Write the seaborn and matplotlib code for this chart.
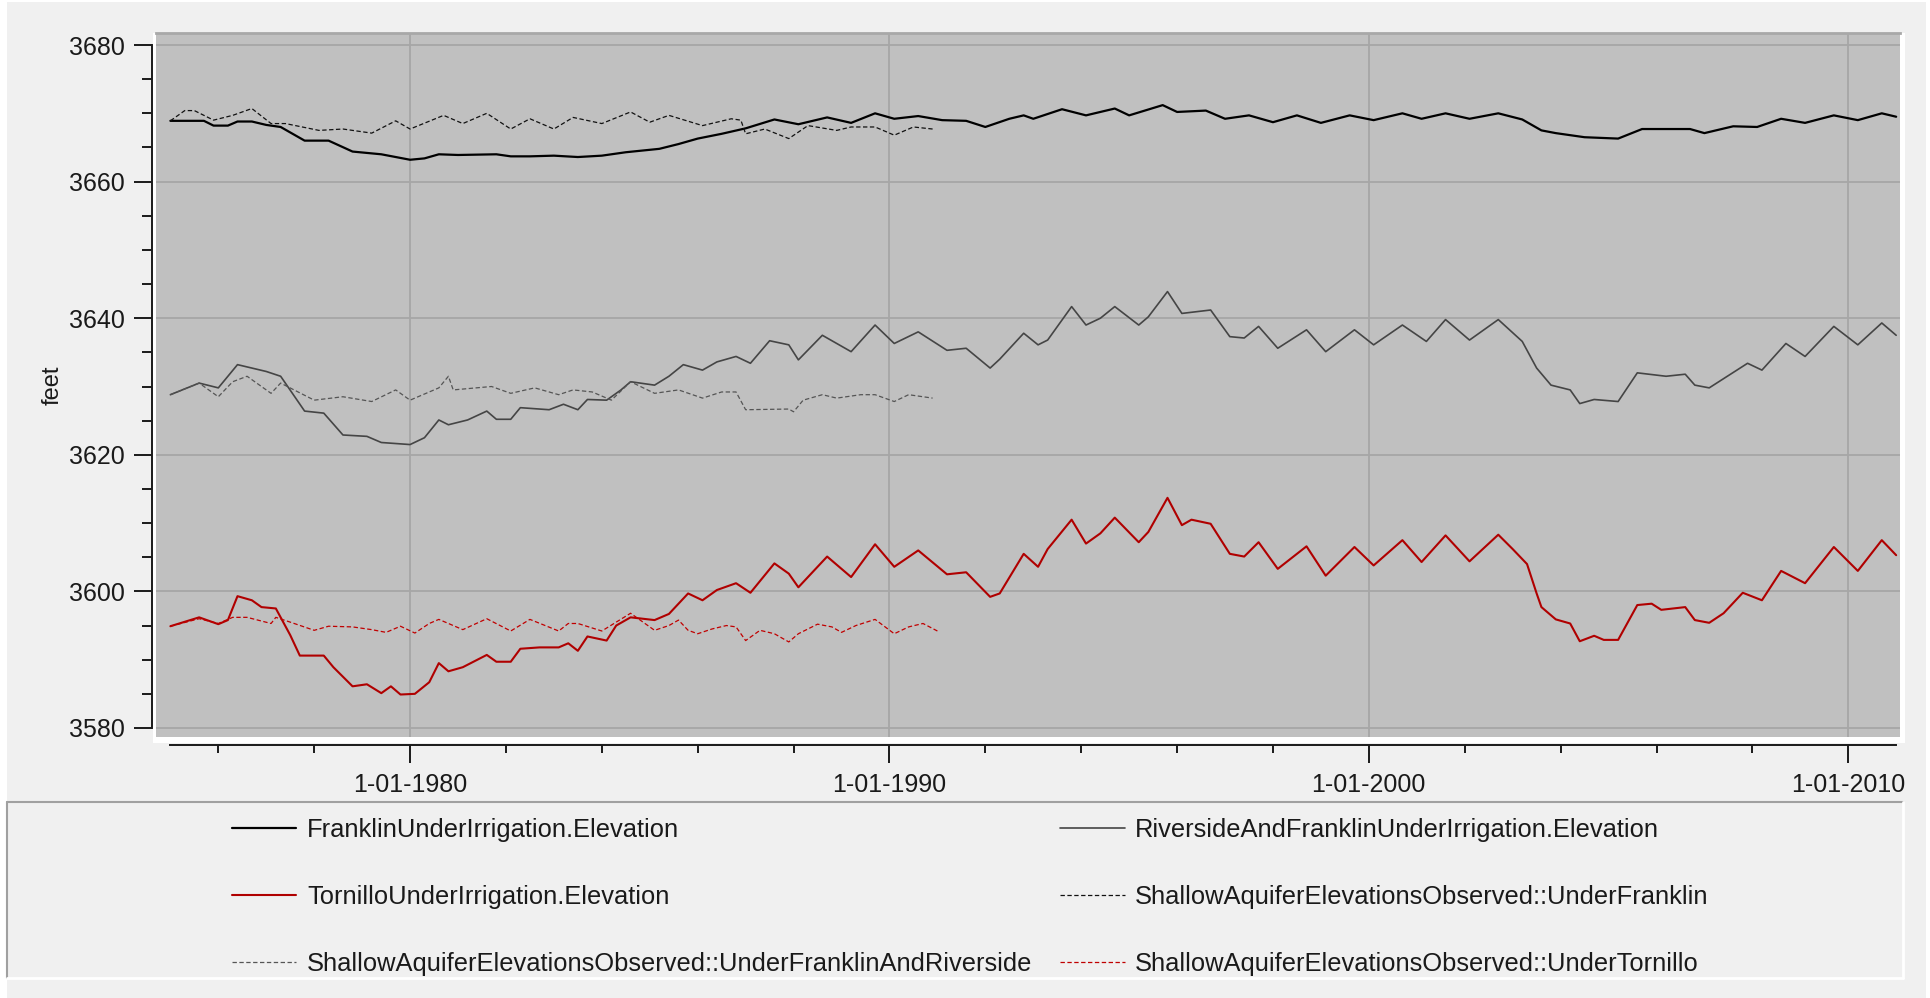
import pandas as pd
import numpy as np
import matplotlib
matplotlib.use("Agg")
import matplotlib.pyplot as plt
import matplotlib.dates as mdates
from matplotlib.ticker import MultipleLocator, FuncFormatter
from matplotlib.patches import Rectangle
from matplotlib.lines import Line2D
import seaborn as sns

# --- data (decimal years, feet) ---
franklin_years = [1975.0, 1975.7, 1975.9, 1976.2, 1976.4, 1976.7, 1977.0, 1977.3, 1977.8, 1978.3,
                  1978.8, 1979.4, 1979.7, 1980.0, 1980.3, 1980.6, 1981.0, 1981.8, 1982.1, 1982.5,
                  1983.0, 1983.5, 1984.0, 1984.5, 1985.2, 1985.6, 1986.0, 1986.5, 1987.0, 1987.6,
                  1988.1, 1988.7, 1989.2, 1989.7, 1990.1, 1990.6, 1991.1, 1991.6, 1992.0, 1992.5,
                  1992.8, 1993.0, 1993.6, 1994.1, 1994.7, 1995.0, 1995.7, 1996.0, 1996.6, 1997.0,
                  1997.5, 1998.0, 1998.5, 1999.0, 1999.6, 2000.1, 2000.7, 2001.1, 2001.6, 2002.1,
                  2002.7, 2003.2, 2003.6, 2003.9, 2004.5, 2005.2, 2005.7, 2006.7, 2007.0, 2007.6,
                  2008.1, 2008.6, 2009.1, 2009.7, 2010.2, 2010.7, 2011.0]
franklin_feet = [3668.9, 3668.9, 3668.2, 3668.2, 3668.8, 3668.8, 3668.3, 3668.0, 3666.0, 3666.0,
                 3664.4, 3664.0, 3663.6, 3663.2, 3663.4, 3664.0, 3663.9, 3664.0, 3663.7, 3663.7,
                 3663.8, 3663.6, 3663.8, 3664.3, 3664.8, 3665.5, 3666.3, 3667.0, 3667.8, 3669.1,
                 3668.4, 3669.4, 3668.6, 3670.0, 3669.2, 3669.6, 3669.0, 3668.9, 3668.0, 3669.2,
                 3669.7, 3669.2, 3670.6, 3669.7, 3670.7, 3669.7, 3671.2, 3670.2, 3670.4, 3669.2,
                 3669.7, 3668.7, 3669.7, 3668.6, 3669.7, 3669.0, 3670.0, 3669.2, 3670.0, 3669.2,
                 3670.0, 3669.1, 3667.5, 3667.1, 3666.5, 3666.3, 3667.7, 3667.7, 3667.1, 3668.1,
                 3668.0, 3669.2, 3668.6, 3669.7, 3669.0, 3670.0, 3669.5]

riverside_years = [1975.0, 1975.6, 1976.0, 1976.4, 1977.0, 1977.3, 1977.8, 1978.2, 1978.6, 1979.1,
                   1979.4, 1980.0, 1980.3, 1980.6, 1980.8, 1981.2, 1981.6, 1981.8, 1982.1, 1982.3,
                   1982.9, 1983.2, 1983.5, 1983.7, 1984.1, 1984.4, 1984.6, 1985.1, 1985.4, 1985.7,
                   1986.1, 1986.4, 1986.8, 1987.1, 1987.5, 1987.9, 1988.1, 1988.6, 1989.2, 1989.7,
                   1990.1, 1990.6, 1991.2, 1991.6, 1992.1, 1992.3, 1992.8, 1993.1, 1993.3, 1993.8,
                   1994.1, 1994.4, 1994.7, 1995.2, 1995.4, 1995.8, 1996.1, 1996.7, 1997.1, 1997.4,
                   1997.7, 1998.1, 1998.7, 1999.1, 1999.7, 2000.1, 2000.7, 2001.2, 2001.6, 2002.1,
                   2002.7, 2003.2, 2003.5, 2003.8, 2004.2, 2004.4, 2004.7, 2005.2, 2005.6, 2006.2,
                   2006.6, 2006.8, 2007.1, 2007.9, 2008.2, 2008.7, 2009.1, 2009.7, 2010.2, 2010.7,
                   2011.0]
riverside_feet = [3628.8, 3630.5, 3629.8, 3633.2, 3632.2, 3631.5, 3626.4, 3626.1, 3622.9, 3622.7,
                  3621.8, 3621.5, 3622.5, 3625.1, 3624.4, 3625.1, 3626.4, 3625.2, 3625.2, 3626.9,
                  3626.6, 3627.4, 3626.6, 3628.1, 3628.0, 3629.5, 3630.7, 3630.2, 3631.5, 3633.2,
                  3632.4, 3633.6, 3634.4, 3633.4, 3636.7, 3636.1, 3633.9, 3637.5, 3635.1, 3639.0,
                  3636.3, 3638.0, 3635.3, 3635.6, 3632.7, 3634.0, 3637.8, 3636.1, 3636.8, 3641.7,
                  3639.0, 3640.0, 3641.7, 3639.0, 3640.2, 3643.9, 3640.7, 3641.2, 3637.3, 3637.1,
                  3638.8, 3635.6, 3638.3, 3635.1, 3638.3, 3636.1, 3639.0, 3636.6, 3639.8, 3636.8,
                  3639.8, 3636.6, 3632.7, 3630.2, 3629.5, 3627.5, 3628.1, 3627.8, 3632.0, 3631.5,
                  3631.8, 3630.2, 3629.8, 3633.4, 3632.4, 3636.3, 3634.4, 3638.8, 3636.1, 3639.3,
                  3637.5]

tornillo_years = [1975.0, 1975.6, 1976.0, 1976.2, 1976.4, 1976.7, 1976.9, 1977.2, 1977.5, 1977.7,
                  1978.2, 1978.4, 1978.8, 1979.1, 1979.4, 1979.6, 1979.8, 1980.1, 1980.4, 1980.6,
                  1980.8, 1981.1, 1981.6, 1981.8, 1982.1, 1982.3, 1982.7, 1983.1, 1983.3, 1983.5,
                  1983.7, 1984.1, 1984.3, 1984.6, 1985.1, 1985.4, 1985.8, 1986.1, 1986.4, 1986.8,
                  1987.1, 1987.6, 1987.9, 1988.1, 1988.7, 1989.2, 1989.7, 1990.1, 1990.6, 1991.2,
                  1991.6, 1992.1, 1992.3, 1992.8, 1993.1, 1993.3, 1993.8, 1994.1, 1994.4, 1994.7,
                  1995.2, 1995.4, 1995.8, 1996.1, 1996.3, 1996.7, 1997.1, 1997.4, 1997.7, 1998.1,
                  1998.7, 1999.1, 1999.7, 2000.1, 2000.7, 2001.1, 2001.6, 2002.1, 2002.7, 2003.0,
                  2003.3, 2003.5, 2003.6, 2003.9, 2004.2, 2004.4, 2004.7, 2004.9, 2005.2, 2005.6,
                  2005.9, 2006.1, 2006.6, 2006.8, 2007.1, 2007.4, 2007.8, 2008.2, 2008.6, 2009.1,
                  2009.7, 2010.2, 2010.7, 2011.0]
tornillo_feet = [3594.9, 3596.2, 3595.2, 3595.8, 3599.3, 3598.7, 3597.7, 3597.5, 3593.6, 3590.6,
                 3590.6, 3588.9, 3586.1, 3586.4, 3585.1, 3586.1, 3584.9, 3585.0, 3586.7, 3589.5,
                 3588.3, 3588.9, 3590.7, 3589.7, 3589.7, 3591.6, 3591.8, 3591.8, 3592.4, 3591.3,
                 3593.4, 3592.8, 3595.0, 3596.2, 3595.8, 3596.7, 3599.7, 3598.7, 3600.2, 3601.2,
                 3599.8, 3604.1, 3602.6, 3600.6, 3605.1, 3602.1, 3606.9, 3603.6, 3606.0, 3602.5,
                 3602.8, 3599.2, 3599.7, 3605.5, 3603.6, 3606.2, 3610.5, 3607.0, 3608.5, 3610.8,
                 3607.2, 3608.7, 3613.7, 3609.7, 3610.5, 3609.9, 3605.5, 3605.1, 3607.2, 3603.3,
                 3606.6, 3602.3, 3606.5, 3603.8, 3607.5, 3604.3, 3608.2, 3604.4, 3608.3, 3606.2,
                 3604.0, 3599.7, 3597.7, 3595.9, 3595.3, 3592.7, 3593.5, 3592.9, 3592.9, 3598.0,
                 3598.2, 3597.3, 3597.7, 3595.8, 3595.4, 3596.8, 3599.8, 3598.7, 3603.0, 3601.2,
                 3606.5, 3603.0, 3607.5, 3605.3]

obs_franklin_years = [1975.0, 1975.3, 1975.5, 1975.9, 1976.3, 1976.7, 1977.1, 1977.4, 1978.1, 1978.6,
                      1979.2, 1979.7, 1980.0, 1980.7, 1981.1, 1981.6, 1982.1, 1982.5, 1983.0, 1983.4,
                      1984.0, 1984.6, 1985.0, 1985.4, 1986.1, 1986.7, 1986.9, 1987.0, 1987.4, 1987.9,
                      1988.3, 1988.9, 1989.2, 1989.7, 1990.1, 1990.5, 1990.9]
obs_franklin_feet = [3668.9, 3670.4, 3670.4, 3669.0, 3669.7, 3670.7, 3668.5, 3668.5, 3667.5, 3667.7,
                     3667.1, 3668.9, 3667.7, 3669.7, 3668.5, 3670.0, 3667.7, 3669.2, 3667.7, 3669.4,
                     3668.5, 3670.2, 3668.7, 3669.7, 3668.2, 3669.2, 3669.0, 3667.0, 3667.7, 3666.3,
                     3668.2, 3667.5, 3668.0, 3668.0, 3666.8, 3668.0, 3667.7]

obs_riverside_years = [1975.0, 1975.6, 1976.0, 1976.3, 1976.6, 1977.1, 1977.3, 1978.0, 1978.6, 1979.2,
                       1979.7, 1980.0, 1980.6, 1980.8, 1980.9, 1981.7, 1982.1, 1982.6, 1983.1, 1983.4,
                       1983.8, 1984.2, 1984.6, 1985.1, 1985.6, 1986.1, 1986.5, 1986.8, 1987.0, 1987.9,
                       1988.0, 1988.2, 1988.6, 1988.9, 1989.4, 1989.7, 1990.1, 1990.4, 1990.9]
obs_riverside_feet = [3628.8, 3630.5, 3628.5, 3630.7, 3631.5, 3629.0, 3630.5, 3628.0, 3628.5, 3627.8,
                      3629.5, 3628.0, 3629.8, 3631.5, 3629.5, 3630.0, 3629.0, 3629.8, 3628.8, 3629.5,
                      3629.2, 3628.0, 3630.7, 3629.0, 3629.5, 3628.3, 3629.2, 3629.2, 3626.6, 3626.7,
                      3626.3, 3628.0, 3628.8, 3628.3, 3628.8, 3628.8, 3627.8, 3628.8, 3628.3]

obs_tornillo_years = [1975.0, 1975.6, 1976.0, 1976.3, 1976.6, 1977.1, 1977.2, 1977.5, 1978.0, 1978.3,
                      1978.8, 1979.2, 1979.5, 1979.8, 1980.1, 1980.4, 1980.6, 1981.1, 1981.6, 1982.1,
                      1982.5, 1983.1, 1983.3, 1983.5, 1984.0, 1984.3, 1984.6, 1985.1, 1985.4, 1985.6,
                      1985.8, 1986.0, 1986.3, 1986.6, 1986.8, 1987.0, 1987.3, 1987.6, 1987.9, 1988.1,
                      1988.5, 1988.8, 1989.0, 1989.3, 1989.7, 1990.1, 1990.4, 1990.7, 1991.0]
obs_tornillo_feet = [3594.9, 3596.0, 3595.3, 3596.2, 3596.2, 3595.3, 3596.2, 3595.5, 3594.3, 3594.9,
                     3594.8, 3594.4, 3594.0, 3594.9, 3593.9, 3595.3, 3595.9, 3594.4, 3596.0, 3594.2,
                     3595.9, 3594.2, 3595.3, 3595.3, 3594.2, 3595.5, 3596.8, 3594.3, 3595.0, 3595.8,
                     3594.3, 3593.8, 3594.5, 3595.0, 3594.8, 3592.8, 3594.3, 3593.8, 3592.6, 3593.8,
                     3595.2, 3594.8, 3594.0, 3595.0, 3595.9, 3593.8, 3594.8, 3595.3, 3594.2]

labels = ["FranklinUnderIrrigation.Elevation",
          "RiversideAndFranklinUnderIrrigation.Elevation",
          "TornilloUnderIrrigation.Elevation",
          "ShallowAquiferElevationsObserved::UnderFranklin",
          "ShallowAquiferElevationsObserved::UnderFranklinAndRiverside",
          "ShallowAquiferElevationsObserved::UnderTornillo"]


def to_dates(years):
    yrs = np.asarray(years)
    return pd.Timestamp("1975-01-01") + pd.to_timedelta((yrs - 1975.0) * 365.25, unit="D")


series = [
    (franklin_years, franklin_feet, "#000000", "-", 1.6),
    (riverside_years, riverside_feet, "#454545", "-", 1.2),
    (tornillo_years, tornillo_feet, "#B00000", "-", 1.5),
    (obs_franklin_years, obs_franklin_feet, "#111111", "--", 0.9),
    (obs_riverside_years, obs_riverside_feet, "#555555", "--", 0.9),
    (obs_tornillo_years, obs_tornillo_feet, "#C00000", "--", 0.9),
]

sns.set_style("ticks")
plt.rcParams["font.family"] = ["Liberation Sans", "DejaVu Sans"]
plt.rcParams["text.color"] = "#1a1a1a"

W, H = 1931, 998
fig = plt.figure(figsize=(W / 100, H / 100), dpi=100, facecolor="white")

# light grey window panel
fig.add_artist(Rectangle((7 / W, 0), (1926 - 7) / W, 1 - 2 / H, transform=fig.transFigure,
                         facecolor="#F0F0F0", edgecolor="none", zorder=-2))
# white rim to the right / bottom of the plot area
fig.add_artist(Rectangle((153 / W, 1 - 743 / H), (1905 - 153) / W, (743 - 33) / H,
                         transform=fig.transFigure, facecolor="white", edgecolor="none", zorder=-1))

ax = fig.add_axes([156 / W, 1 - 737 / H, (1900 - 156) / W, (737 - 33) / H])
ax.set_facecolor("#C0C0C0")

for (yrs, vals, col, ls, lw), name in zip(series, labels):
    sns.lineplot(x=to_dates(yrs), y=vals, ax=ax, color=col, linestyle=ls, linewidth=lw,
                 label=name, legend=False, sort=False)
for line in ax.lines:
    if line.get_linestyle() == "--":
        line.set_dashes((3.5, 2.0))

ax.set_xlim(to_dates([1974.70])[0], to_dates([2011.08])[0])
ax.set_ylim(3578.68, 3681.76)

ax.yaxis.set_major_locator(MultipleLocator(20))
ax.yaxis.set_minor_locator(MultipleLocator(5))
ax.xaxis.set_major_locator(mdates.YearLocator(10))
ax.xaxis.set_minor_locator(mdates.YearLocator(2))
ax.xaxis.set_major_formatter(FuncFormatter(lambda v, p: "1-01-" + mdates.num2date(v).strftime("%Y")))

ax.grid(which="major", color="#A6A6A6", linewidth=1.3)
ax.set_axisbelow(True)

ax.spines["left"].set_position(("outward", 2.9))
ax.spines["left"].set_bounds(3580, 3680)
ax.spines["bottom"].set_position(("outward", 5.8))
ax.spines["bottom"].set_bounds(mdates.date2num(to_dates([1975.0])[0]),
                               mdates.date2num(to_dates([2011.0])[0]))
for s in ("left", "bottom"):
    ax.spines[s].set_color("#1a1a1a")
    ax.spines[s].set_linewidth(1.4)
ax.spines["top"].set_color("#A8A8A8")
ax.spines["top"].set_linewidth(2.0)
ax.spines["right"].set_visible(False)

ax.tick_params(axis="y", which="major", length=13, width=1.4, pad=6.5, labelsize=18,
               color="#1a1a1a", labelcolor="#1a1a1a")
ax.tick_params(axis="y", which="minor", length=7, width=1.4, color="#1a1a1a")
ax.tick_params(axis="x", which="major", length=13, width=1.4, pad=7, labelsize=18,
               color="#1a1a1a", labelcolor="#1a1a1a")
ax.tick_params(axis="x", which="minor", length=6, width=1.4, color="#1a1a1a")

ax.set_xlabel("")
ax.set_ylabel("feet", fontsize=17, color="#1a1a1a")
ax.yaxis.set_label_coords((64 - 156) / (1900 - 156), 0.5)

# legend panel
lx0, lx1, ly0, ly1 = 7, 1903, 802, 978
fig.add_artist(Line2D([lx0 / W, lx1 / W], [1 - ly0 / H] * 2, color="#A0A0A0", lw=1.5))
fig.add_artist(Line2D([lx0 / W] * 2, [1 - ly0 / H, 1 - ly1 / H], color="#A0A0A0", lw=1.5))
fig.add_artist(Line2D([lx0 / W, lx1 / W], [1 - ly1 / H] * 2, color="white", lw=2))
fig.add_artist(Line2D([lx1 / W] * 2, [1 - ly0 / H, 1 - ly1 / H], color="white", lw=2))

handles, names = ax.get_legend_handles_labels()
order = [0, 2, 4, 1, 3, 5]
fig.legend([handles[i] for i in order], [names[i] for i in order], ncol=2,
           loc="upper left", bbox_to_anchor=(232 / W, 1 - 818 / H), frameon=False,
           fontsize=18.35, handlelength=2.52, handletextpad=0.42, columnspacing=1.1,
           labelspacing=1.68, borderpad=0, borderaxespad=0)

fig.savefig("out.png", dpi=100, facecolor=fig.get_facecolor())
